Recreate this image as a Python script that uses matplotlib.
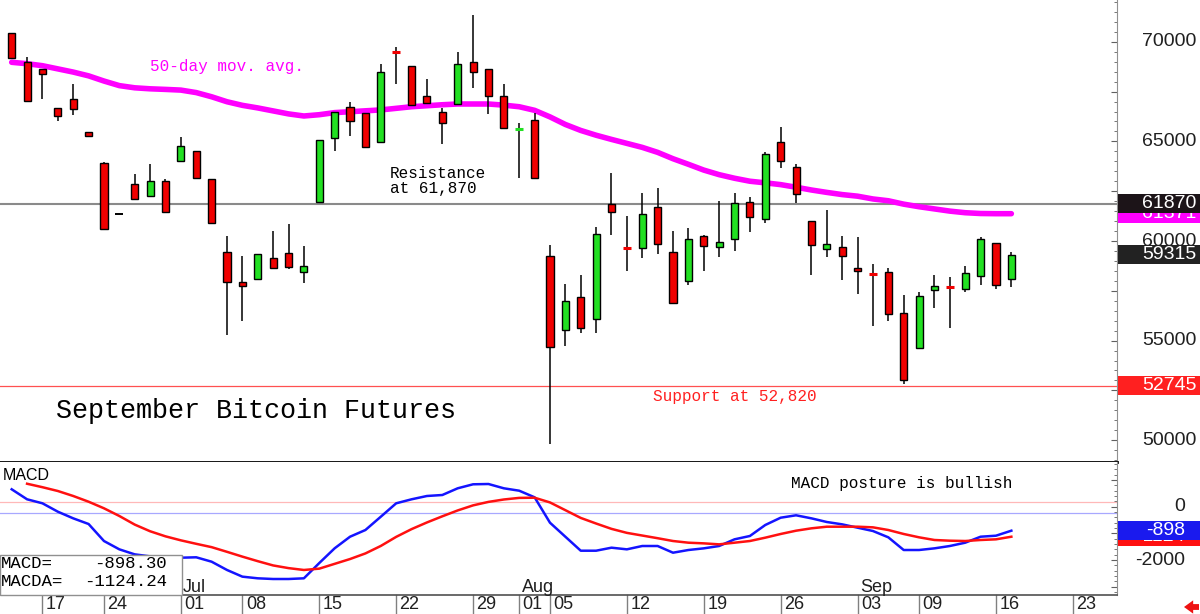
import numpy as np
import pandas as pd
import matplotlib
matplotlib.use('Agg')
import matplotlib.pyplot as plt
from matplotlib.patches import Rectangle
from matplotlib.ticker import MultipleLocator
from matplotlib.transforms import blended_transform_factory

# ==========================================
# DATA
# ==========================================
holidays = ['2024-06-19', '2024-07-04', '2024-09-02']
calendar = pd.bdate_range('2024-06-13', '2024-09-27')
calendar = calendar[~calendar.isin(pd.to_datetime(holidays))]

opens = [70427, 68971, 68619, 66662, 67128, 65487, 63901, 61355, 62861, 62274,
         63027, 64016, 64518, 63127, 59433, 57927, 58092, 59132, 59373, 58429,
         61973, 65156, 66712, 66411, 64985, 69490, 68770, 67279, 66461, 66862,
         68986, 68619, 67264, 65610, 66074, 59247, 55532, 57174, 56069, 61842,
         59650, 59634, 61722, 59433, 58007, 60251, 59714, 60085, 61943, 61089,
         64955, 63730, 61019, 59598, 59684, 58645, 58360, 58459, 56371, 54614,
         57540, 57720, 57590, 58243, 59885, 58077]
highs = [70427, 69222, 68619, 66662, 67881, 65487, 63981, 61355, 63363, 63850,
         63112, 65236, 64518, 63127, 60236, 59262, 59347, 60502, 60838, 59749,
         65070, 66491, 66963, 66411, 68885, 69724, 68770, 68147, 66662, 69503,
         71360, 68619, 67881, 65909, 66411, 59799, 57841, 58278, 60718, 63399,
         61270, 62395, 62646, 60517, 60638, 60301, 62023, 62425, 62194, 64483,
         65708, 63865, 61019, 61556, 60266, 60186, 58845, 58660, 57289, 57455,
         58293, 58208, 58760, 60216, 59885, 59463]
lows = [69172, 67028, 67128, 66039, 66325, 65206, 60587, 61355, 62123, 62274,
        61471, 64016, 63112, 60889, 55281, 55999, 58092, 58660, 58609, 57907,
        61908, 64533, 65286, 64734, 64920, 67881, 66777, 66913, 64869, 66862,
        67696, 66360, 65658, 63178, 63148, 49794, 54744, 55397, 55367, 60301,
        58494, 59132, 59332, 56873, 57791, 58494, 59212, 59513, 60437, 60889,
        63650, 61893, 58278, 59182, 58042, 57324, 55733, 55984, 52820, 54578,
        56621, 55648, 57425, 57791, 57575, 57676]
closes = [69172, 67028, 68368, 66290, 66611, 65271, 60587, 61355, 62123, 63012,
          61471, 64769, 63148, 60889, 57927, 57741, 59347, 58660, 58695, 58760,
          65070, 66491, 66039, 64734, 68469, 69473, 66827, 66913, 65939, 68870,
          68499, 67294, 65688, 65622, 63148, 54694, 57003, 55618, 60336, 61471,
          59634, 61340, 59834, 56873, 60085, 59764, 59965, 61923, 61220, 64352,
          64016, 62359, 59799, 59834, 59262, 58509, 58343, 56320, 53022, 57254,
          57741, 57706, 58379, 60100, 57776, 59315]

ma50 = [68971, 68900, 68800, 68640, 68480, 68290, 68030, 67800, 67690, 67640,
        67610, 67575, 67450, 67240, 66990, 66810, 66680, 66530, 66380, 66275,
        66340, 66445, 66490, 66535, 66580, 66660, 66740, 66790, 66840, 66877,
        66877, 66877, 66820, 66740, 66560, 66230, 65850, 65550, 65310, 65100,
        64900, 64700, 64450, 64130, 63850, 63560, 63330, 63150, 63000, 62920,
        62830, 62700, 62560, 62440, 62330, 62250, 62110, 62020, 61850, 61720,
        61610, 61500, 61420, 61380, 61371, 61371]

macd = [652, 277, 127, -187, -436, -648, -1285, -1597, -1785, -1860,
        -1900, -1910, -1895, -2060, -2370, -2620, -2682, -2708, -2708, -2682,
        -2110, -1558, -1124, -873, -375, 127, 277, 401, 438, 689,
        839, 850, 689, 599, 352, -599, -1124, -1648, -1648, -1535,
        -1597, -1472, -1472, -1723, -1622, -1560, -1472, -1222, -1097, -685,
        -412, -322, -436, -573, -661, -786, -910, -1147, -1622, -1622,
        -1560, -1472, -1348, -1124, -1086, -898.30]
signal = [np.nan, 860, 730, 588, 401, 187, -60, -348, -670, -920,
          -1110, -1260, -1390, -1515, -1690, -1870, -2040, -2200, -2300, -2370,
          -2320, -2140, -1960, -1750, -1470, -1130, -840, -590, -360, -140,
          50, 180, 270, 330, 337, 160, -130, -420, -630, -830,
          -980, -1080, -1180, -1285, -1348, -1373, -1410, -1348, -1285, -1160,
          -1022, -899, -810, -749, -749, -749, -773, -873, -1022, -1147,
          -1247, -1273, -1285, -1247, -1222, -1124.24]

tick_dates = ['2024-06-17', '2024-06-24', '2024-07-01', '2024-07-08', '2024-07-15',
              '2024-07-22', '2024-07-29', '2024-08-01', '2024-08-05', '2024-08-12',
              '2024-08-19', '2024-08-26', '2024-09-03', '2024-09-09', '2024-09-16',
              '2024-09-23']
month_starts = ['2024-07-01', '2024-08-01', '2024-09-03']
month_names = ['Jul', 'Aug', 'Sep']

resistance = 61870
support = 52745
price_labels = [70000, 65000, 60000, 55000, 50000]
macd_labels = [0, -2000]
macd_ref_hi = 190
macd_ref_lo = -240

# ==========================================
# STYLE
# ==========================================
RED = '#f00000'
GREEN = '#22e022'
MAGENTA = '#ff00ff'
MONO = 'Liberation Mono'
SANS = 'Liberation Sans'

W, H = 1200, 614
AX_R = 1116.7          # right axis line, px
MAIN_BOT = 462         # separator, px
MACD_BOT = 595         # date axis, px

x = np.arange(len(closes))
xlim = (-0.76, 71.85)

fig = plt.figure(figsize=(W / 100, H / 100), dpi=100)
ax = fig.add_axes([0, (H - MAIN_BOT) / H, AX_R / W, MAIN_BOT / H])
axm = fig.add_axes([0, (H - MACD_BOT) / H, AX_R / W, (MACD_BOT - MAIN_BOT) / H])

# --- main panel ---
ax.set_xlim(*xlim)
ax.set_ylim(48906, 72098)
ax.axhline(resistance, color='#8a8a8a', lw=1.5, zorder=0.5)
ax.axhline(support, color='#ff5050', lw=0.9, zorder=0.5)
ax.plot(x, ma50, color=MAGENTA, lw=4, zorder=1, solid_capstyle='round')

for i in range(len(closes)):
    o, h, l, c = opens[i], highs[i], lows[i], closes[i]
    ax.vlines(i, l, h, color='black', lw=1.1, zorder=2)
    if abs(c - o) < 50:
        col = 'black' if c == o else (GREEN if c > o else RED)
        ax.hlines(c, i - 0.26, i + 0.26, color=col, lw=2.2 if c != o else 1.4, zorder=3)
    else:
        col = GREEN if c > o else RED
        ax.add_patch(Rectangle((i - 0.23, min(o, c)), 0.46, abs(c - o),
                               facecolor=col, edgecolor='black', lw=1.0, zorder=3))

for s in ['top', 'left']:
    ax.spines[s].set_visible(False)
ax.spines['right'].set_color('#909090')
ax.spines['bottom'].set_color('black')
ax.spines['bottom'].set_linewidth(2)
ax.set_xticks([])
ax.yaxis.tick_right()
ax.yaxis.set_major_locator(MultipleLocator(2500))
ax.yaxis.set_minor_locator(MultipleLocator(500))
ax.tick_params(axis='y', which='both', direction='in', colors='#606060', labelright=False)
ax.tick_params(axis='y', which='major', length=4)
ax.tick_params(axis='y', which='minor', length=2)

ax.text(150 / AX_R, 1 - 66.7 / MAIN_BOT, '50-day mov. avg.', transform=ax.transAxes,
        color=MAGENTA, fontsize=11.5, family=MONO, va='center', ha='left')
ax.text(390 / AX_R, 1 - 180.7 / MAIN_BOT, 'Resistance\nat 61,870', transform=ax.transAxes,
        color='black', fontsize=11.5, family=MONO, va='center', ha='left', linespacing=1.0)
ax.text(652.7 / AX_R, 1 - 396.7 / MAIN_BOT, 'Support at 52,820', transform=ax.transAxes,
        color='#ff2020', fontsize=11.5, family=MONO, va='center', ha='left')
ax.text(56 / AX_R, 1 - 410.7 / MAIN_BOT, 'September Bitcoin Futures', transform=ax.transAxes,
        color='black', fontsize=19.3, family=MONO, va='center', ha='left')

# right-hand labels
tr_main = blended_transform_factory(fig.transFigure, ax.transData)
for v in price_labels:
    ax.text(1196.7 / W, v, f'{v}', transform=tr_main, ha='right', va='center',
            fontsize=14, family=SANS, color='#202020', zorder=5)

# later boxes sit on top of earlier ones
main_boxes = [(ma50[-1], MAGENTA), (resistance, '#1c1418'), (closes[-1], '#222222'), (support, '#ff2020')]
for k, (v, fc) in enumerate(main_boxes):
    z = 6 + 2 * k
    ax.add_patch(Rectangle((1117.5 / W, v - 480), 1 - 1117.5 / W, 960, transform=tr_main,
                           facecolor=fc, edgecolor='none', clip_on=False, zorder=z))
    ax.text(1196.7 / W, v, f'{v:.0f}', transform=tr_main, ha='right', va='center',
            fontsize=14, family=SANS, color='white', zorder=z + 1, clip_on=False)

# --- MACD panel ---
axm.set_xlim(*xlim)
axm.set_ylim(-3307, 1674)
axm.axhline(macd_ref_hi, color='#ffb8b8', lw=0.9, zorder=0.5)
axm.axhline(macd_ref_lo, color='#a8a8ff', lw=0.9, zorder=0.5)
axm.plot(x, macd, color='#1414ff', lw=1.8, zorder=2)
axm.plot(x, signal, color='#ff1010', lw=1.8, zorder=3)

for s in ['top', 'left']:
    axm.spines[s].set_visible(False)
axm.spines['right'].set_color('#909090')
axm.spines['bottom'].set_color('#505050')
axm.spines['bottom'].set_linewidth(1.2)
axm.set_xticks([])
axm.yaxis.tick_right()
axm.yaxis.set_major_locator(MultipleLocator(1000))
axm.yaxis.set_minor_locator(MultipleLocator(200))
axm.tick_params(axis='y', which='both', direction='in', colors='#606060', labelright=False)
axm.tick_params(axis='y', which='major', length=4)
axm.tick_params(axis='y', which='minor', length=2)

mh = MACD_BOT - MAIN_BOT
axm.text(3 / AX_R, (MACD_BOT - 475) / mh, 'MACD', transform=axm.transAxes,
         fontsize=11.5, family=SANS, va='center', ha='left')
axm.text(791.4 / AX_R, (MACD_BOT - 483.3) / mh, 'MACD posture is bullish', transform=axm.transAxes,
         fontsize=11.5, family=MONO, va='center', ha='left')

axm.add_patch(Rectangle((0, 0), 181.8 / AX_R, (MACD_BOT - 555) / mh, transform=axm.transAxes,
                        facecolor='white', edgecolor='#909090', lw=1, zorder=5, clip_on=False))
for row, (name, val) in enumerate([('MACD=', macd[-1]), ('MACDA=', signal[-1])]):
    yy = (MACD_BOT - (564 + 17.7 * row)) / mh
    axm.text(1 / AX_R, yy, name, transform=axm.transAxes, fontsize=12.5, family=MONO,
             va='center', ha='left', zorder=6)
    axm.text(167 / AX_R, yy, f'{val:.2f}', transform=axm.transAxes, fontsize=12.5, family=MONO,
             va='center', ha='right', zorder=6)

tr_macd = blended_transform_factory(fig.transFigure, axm.transData)
for v in macd_labels:
    axm.text(1185 / W, v, f'{v}', transform=tr_macd, ha='right', va='center',
             fontsize=14, family=SANS, color='#202020')
for k, (v, fc) in enumerate([(signal[-1], '#ff1010'), (macd[-1], '#1a1aee')]):
    z = 6 + 2 * k
    axm.add_patch(Rectangle((1117.5 / W, v - 345), 1 - 1117.5 / W, 690, transform=tr_macd,
                            facecolor=fc, edgecolor='none', clip_on=False, zorder=z))
    axm.text(1185 / W, v, f'{v:.0f}', transform=tr_macd, ha='right', va='center',
             fontsize=14, family=SANS, color='white', zorder=z + 1)

# --- date axis ---
tr_dates = blended_transform_factory(axm.transData, axm.transAxes)
for d in tick_dates:
    pos = calendar.get_loc(pd.Timestamp(d))
    axm.plot([pos, pos], [0, -0.16], transform=tr_dates, color='#808080', lw=1, clip_on=False)
    axm.text(pos + 0.22, -0.07, pd.Timestamp(d).strftime('%d'), transform=tr_dates,
             ha='left', va='center', fontsize=13, family=SANS, color='#202020')
for d, name in zip(month_starts, month_names):
    pos = calendar.get_loc(pd.Timestamp(d))
    axm.text(pos + 0.15, (MACD_BOT - 591.5) / mh, name, transform=tr_dates,
             ha='left', va='baseline', fontsize=13, family=SANS, color='#202020', zorder=6)

# red arrow bottom right
axm.annotate('', xy=(1184, 7), xytext=(1199, 7), xycoords='figure pixels',
             textcoords='figure pixels',
             arrowprops=dict(arrowstyle='simple,head_width=0.8,head_length=0.55,tail_width=0.35',
                             color='#ee1111', lw=0, shrinkA=0, shrinkB=0, mutation_scale=12))

fig.savefig('out.png', dpi=100, facecolor='white')
